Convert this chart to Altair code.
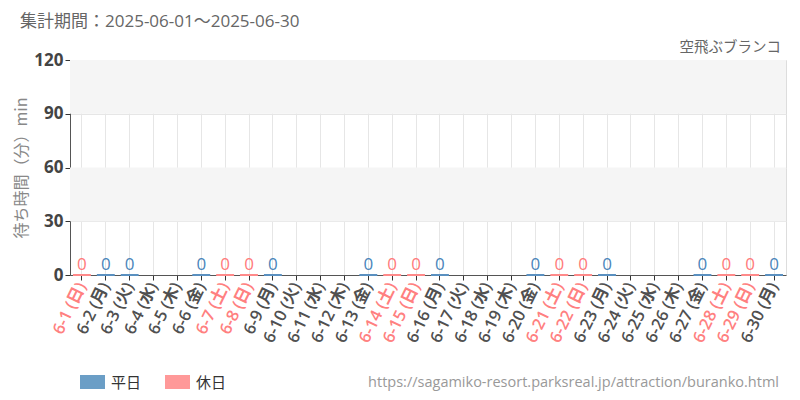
import altair as alt
import pandas as pd

days = [f"6-{d}" for d in range(1, 31)]
weekdays = ["日", "月", "火", "水", "木", "金", "土"]
# June 1 2025 is Sunday
dow = [weekdays[(d - 1) % 7] for d in range(1, 31)]
labels = [f"{d} ({w})" for d, w in zip(days, dow)]
holiday_flags = [w in ("土", "日") for w in dow]

# waiting time (minutes); None = no data
wait = [0, 0, 0, None, None, 0, 0, 0, 0, None,
        None, None, 0, 0, 0, 0, None, None, None, 0,
        0, 0, 0, None, None, None, 0, 0, 0, 0]

kind = ["休日" if h else "平日" for h in holiday_flags]
kinds = ["平日", "休日"]
bar_colors = ["#6b9ec6", "#ff9999"]
stroke_colors = ["#5a90c0", "#ff8a8a"]
text_colors = ["#4a85ba", "#ff7a7a"]

df = pd.DataFrame({"label": labels, "wait": wait, "kind": kind})
df = df[df["wait"].notna()]

bands = pd.DataFrame({"lo": [90, 30], "hi": [120, 60]})

FONT = "Open Sans, Noto Sans CJK JP"
CJK = "Noto Sans CJK JP"
W, H = 716, 215

xenc = alt.X("label:N", sort=labels, scale=alt.Scale(domain=labels, paddingInner=0.25, paddingOuter=0.125),
             axis=alt.Axis(title=None, labelAngle=-64, labelFontSize=16.5, labelFont=FONT,
                           labelColor={"expr": "(indexof(datum.value,'土')>=0 || indexof(datum.value,'(日)')>=0) ? '#ff8080' : '#505050'"},
                           grid=True, gridColor="#e6e6e6", domainColor="#555", tickColor="#333",
                           tickSize=5, labelPadding=3, labelFontWeight=600))
yscale = alt.Scale(domain=[0, 120], nice=False)
yaxis = alt.Axis(values=[0, 30, 60, 90, 120], title="待ち時間（分）min", titleFont=CJK,
                 titleFontSize=16, titleColor="#888", titleFontWeight="normal", titlePadding=4,
                 labelFont=FONT, labelFontSize=17, labelFontWeight="bold", labelColor="#444",
                 gridColor="#e6e6e6", domainColor="#555", tickColor="#333", tickSize=5)

color = alt.Color("kind:N", scale=alt.Scale(domain=kinds, range=bar_colors), legend=None)

bg = alt.Chart(bands).mark_rect(color="#f5f5f5").encode(
    y=alt.Y("lo:Q", scale=yscale, axis=yaxis), y2="hi:Q")

bars = alt.Chart(df).mark_bar(strokeWidth=2).encode(
    x=xenc, y=alt.Y("wait:Q", scale=yscale), color=color,
    stroke=alt.Stroke("kind:N", scale=alt.Scale(domain=kinds, range=stroke_colors), legend=None))

txt = alt.Chart(df).mark_text(baseline="bottom", dy=-1, fontSize=17, font=FONT).encode(
    x=alt.X("label:N", sort=labels), y=alt.Y("wait:Q", scale=yscale), text="wait:Q",
    color=alt.Color("kind:N", scale=alt.Scale(domain=kinds, range=text_colors), legend=None))

header = alt.Chart(pd.DataFrame({"t": ["集計期間：2025-06-01～2025-06-30"]})).mark_text(
    align="left", baseline="middle", fontSize=17, font=FONT, color="#666").encode(
    text="t:N", x=alt.value(-50), y=alt.value(-38))
name = alt.Chart(pd.DataFrame({"t": ["空飛ぶブランコ"]})).mark_text(
    align="right", baseline="middle", fontSize=14.5, font=CJK, color="#666").encode(
    text="t:N", x=alt.value(711), y=alt.value(-12))
url = alt.Chart(pd.DataFrame({"t": ["https://sagamiko-resort.parksreal.jp/attraction/buranko.html"]})).mark_text(
    align="right", baseline="middle", fontSize=14.5, font=FONT, color="#999").encode(
    text="t:N", x=alt.value(709), y=alt.value(323))

# legend (built from the series names and colours)
legend_layers = []
for i, (k, c) in enumerate(zip(kinds, bar_colors)):
    x0 = 10 + i * 85
    legend_layers.append(alt.Chart(pd.DataFrame({"k": [k]})).mark_rect(color=c).encode(
        x=alt.value(x0), x2=alt.value(x0 + 25), y=alt.value(315), y2=alt.value(329)))
    legend_layers.append(alt.Chart(pd.DataFrame({"k": [k]})).mark_text(
        align="left", baseline="middle", fontSize=15, font=CJK, color="#333").encode(
        text="k:N", x=alt.value(x0 + 31), y=alt.value(322.5)))

chart = alt.layer(bg, bars, txt, header, name, url, *legend_layers).resolve_scale(color="independent").properties(
    width=W, height=H, autosize=alt.AutoSizeParams(type="none"),
    padding={"left": 62, "top": 52, "right": 6, "bottom": 117}
).configure_view(stroke=None).configure(background="white")

chart.save("out.html", embed_options={"renderer": "svg", "actions": False})
